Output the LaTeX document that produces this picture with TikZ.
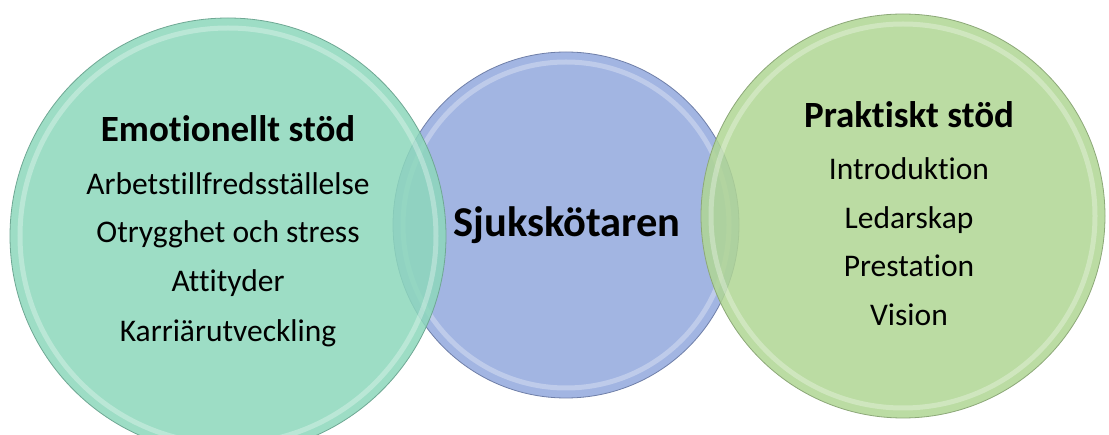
\documentclass[tikz,border=0pt]{standalone}
\usepackage{fontspec}
\setmainfont[Ligatures=NoCommon]{Carlito}
\begin{document}
\begin{tikzpicture}[x=1pt,y=-1pt]
  \definecolor{tealfill}{HTML}{8DD8BC}
  \definecolor{tealline}{HTML}{6FA894}
  \definecolor{bluefill}{HTML}{92A9DE}
  \definecolor{blueline}{HTML}{6F7FA8}
  \definecolor{greenfill}{HTML}{B0D694}
  \definecolor{greenline}{HTML}{8CA878}
  \tikzset{
    bubble/.style={fill opacity=0.85},
    rim/.style={draw=white, line width=5pt, draw opacity=0.3},
    edge/.style={line width=0.8pt},
    title/.style={anchor=base, font=\bfseries\fontsize{37}{44}\selectfont},
    item/.style={anchor=base, font=\fontsize{31.5}{38}\selectfont},
    centre/.style={anchor=base, font=\bfseries\fontsize{42.5}{50}\selectfont}
  }
  \useasboundingbox[fill=white] (0,0) rectangle (1109,435);
  \begin{scope}
    \clip (0,0) rectangle (1109,435);
    % centre bubble
    \fill[bluefill, bubble] (566,225) circle (173);
    \draw[rim] (566,225) circle (163);
    \draw[blueline, edge] (566,225) circle (173);
    % left bubble
    \fill[tealfill, bubble] (228,236) circle (218);
    \draw[rim] (228,236) circle (208);
    \draw[tealline, edge] (228,236) circle (218);
    % right bubble
    \fill[greenfill, bubble] (903,216) circle (202);
    \draw[rim] (903,216) circle (192);
    \draw[greenline, edge] (903,216) circle (202);
  \end{scope}

  % left texts
  \node[title] (emo) at (228,142) {Emotionellt stöd};
  \node[item] (e1) at (228,195) {Arbetstillfredsställelse};
  \node[item] (e2) at (228,243) {Otrygghet och stress};
  \node[item] (e3) at (228,292) {Attityder};
  \node[item] (e4) at (228,342) {Karriärutveckling};

  % centre text
  \node[centre] (sjuk) at (567,237) {Sjukskötaren};

  % right texts
  \node[title] (prak) at (909,128) {Praktiskt stöd};
  \node[item] (p1) at (909,180) {Introduktion};
  \node[item] (p2) at (909,229) {Ledarskap};
  \node[item] (p3) at (909,277) {Prestation};
  \node[item] (p4) at (909,326) {Vision};
\end{tikzpicture}
\end{document}
